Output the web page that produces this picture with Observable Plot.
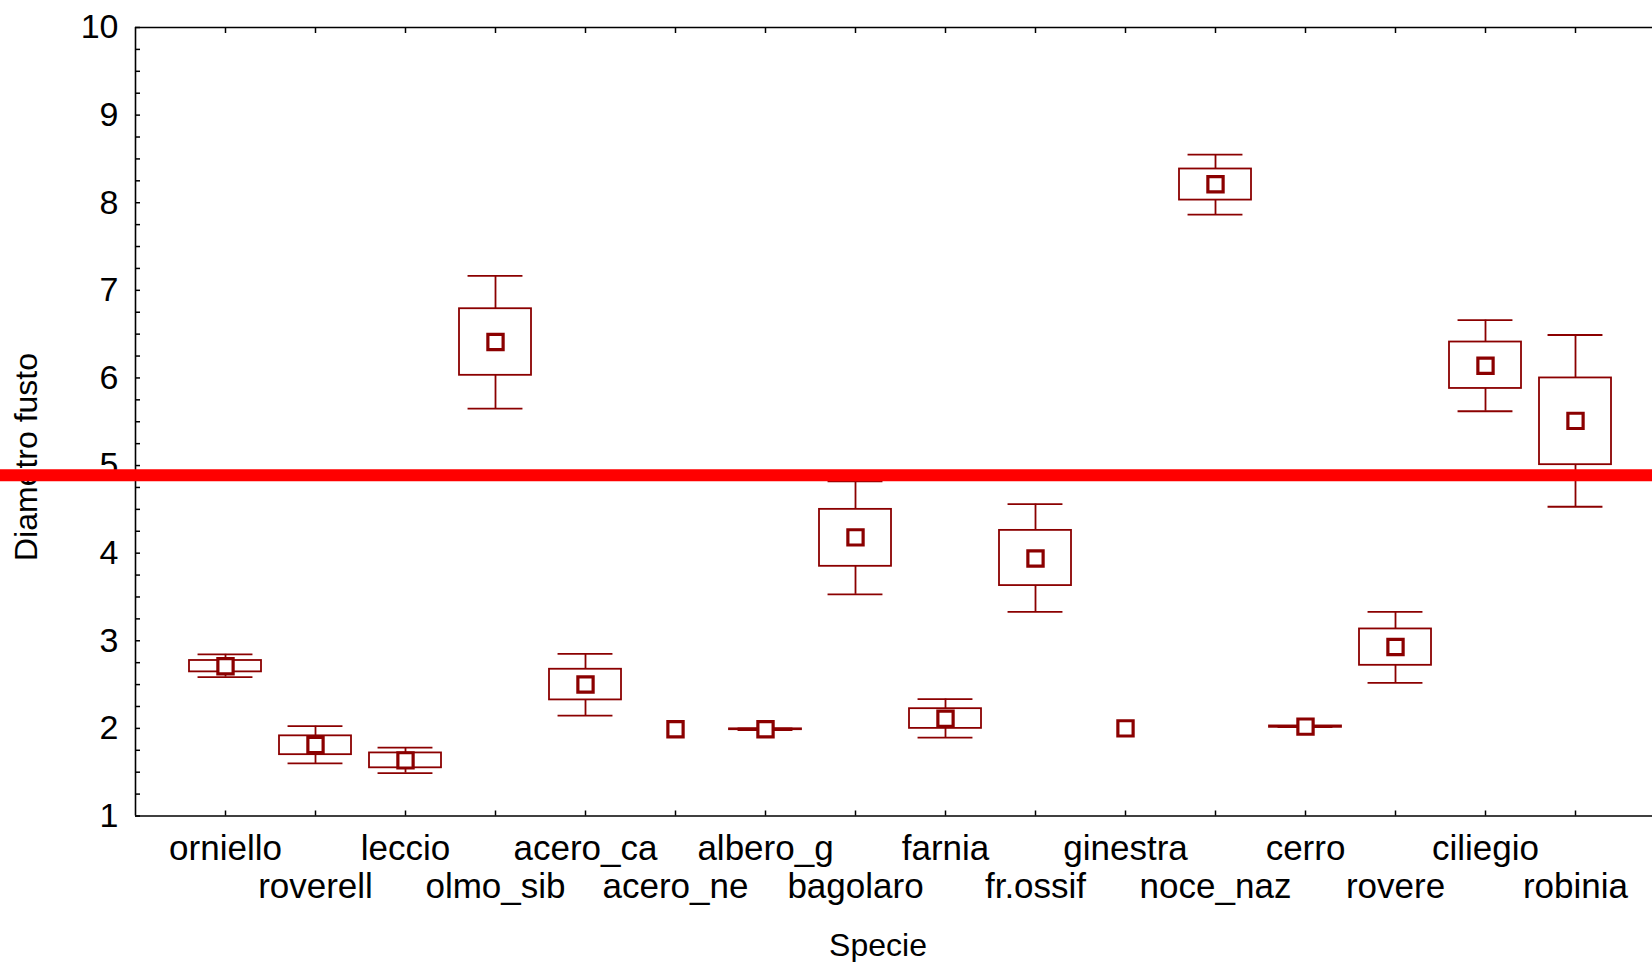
<!DOCTYPE html>
<html>
<head>
<meta charset="utf-8">
<script src="https://cdn.jsdelivr.net/npm/d3@7"></script>
<script src="https://cdn.jsdelivr.net/npm/@observablehq/plot@0.6"></script>
<style>
  html, body { margin: 0; padding: 0; background: #fff; overflow: hidden; }
  #chart { width: 1652px; height: 962px; }
</style>
</head>
<body>
<div id="chart"></div>
<script>
// ---- data ----
const species   = ["orniello","roverell","leccio","olmo_sib","acero_ca","acero_ne","albero_g","bagolaro","farnia","fr.ossif","ginestra","noce_naz","cerro","rovere","ciliegio","robinia"];
const means     = [2.71, 1.81, 1.635, 6.41, 2.50, 1.99, 1.99, 4.18, 2.11, 3.94, 2.00, 8.21, 2.02, 2.93, 6.14, 5.51];
const boxLow    = [2.645, 1.70, 1.55, 6.03, 2.325, null, 1.985, 3.85, 2.00, 3.63, null, 8.03, 2.012, 2.72, 5.88, 5.01];
const boxHigh   = [2.775, 1.915, 1.72, 6.79, 2.675, null, 1.995, 4.50, 2.225, 4.26, null, 8.385, 2.028, 3.135, 6.41, 6.00];
const whiskLow  = [2.585, 1.60, 1.49, 5.65, 2.145, null, 1.98, 3.53, 1.895, 3.33, null, 7.865, 2.015, 2.52, 5.62, 4.53];
const whiskHigh = [2.845, 2.025, 1.78, 7.165, 2.85, null, 2.00, 4.82, 2.335, 4.56, null, 8.55, 2.025, 3.33, 6.66, 6.49];
const refLine   = 4.89;
const yTicks    = [1, 2, 3, 4, 5, 6, 7, 8, 9, 10];
const xTitle    = "Specie";
const yTitle    = "Diametro fusto";

(function () {
const rows = species.map((s, i) => ({
  i, s, mean: means[i], lo: boxLow[i], hi: boxHigh[i], wlo: whiskLow[i], whi: whiskHigh[i]
}));
const withBox = rows.filter(d => d.lo != null);
const even = rows.filter(d => d.i % 2 === 0);
const odd = rows.filter(d => d.i % 2 === 1);
const minorTicks = d3.range(1, 10.001, 0.25);

const col = "#8b0000";
const font = "'Liberation Sans', Arial, sans-serif";

const W = 1652, H = 962;
const mLeft = 135, mTop = 27, yBottom = 815.5;

const plot = Plot.plot({
  width: W,
  height: H,
  marginLeft: mLeft,
  marginRight: 0,
  marginTop: mTop,
  marginBottom: H - yBottom,
  style: { fontFamily: font, background: "white", overflow: "hidden", color: "black" },
  x: { type: "linear", domain: [-1, 16], range: [mLeft, mLeft + 17 * 90], axis: null },
  y: { domain: [1, 10], range: [yBottom, mTop], axis: null },
  marks: [
    Plot.axisY(yTicks, { tickSize: 0, tickPadding: 17, fontSize: 34, anchor: "left", label: null, tickFormat: d => String(d) }),
    Plot.axisY(minorTicks, { tickSize: -5, tickFormat: () => "", anchor: "left", strokeWidth: 1.5, label: null }),
    Plot.axisX(d3.range(species.length), { anchor: "top", tickSize: -5, tickFormat: () => "", strokeWidth: 1.5, label: null }),
    Plot.axisX(d3.range(species.length), { anchor: "bottom", tickSize: -5, tickFormat: () => "", strokeWidth: 1.5, label: null }),
    Plot.ruleX([-1], { y1: 1, y2: 10, stroke: "black", strokeWidth: 1.6 }),
    Plot.ruleY([1, 10], { x1: () => -1, x2: () => 17, stroke: "black", strokeWidth: 1.6 }),
    Plot.text(even, { x: "i", text: "s", frameAnchor: "bottom", dy: 33, fontSize: 35, lineAnchor: "middle" }),
    Plot.text(odd, { x: "i", text: "s", frameAnchor: "bottom", dy: 71, fontSize: 35, lineAnchor: "middle" }),
    Plot.ruleX(withBox, { x: "i", y1: "hi", y2: "whi", stroke: col, strokeWidth: 1.8 }),
    Plot.ruleX(withBox, { x: "i", y1: "lo", y2: "wlo", stroke: col, strokeWidth: 1.8 }),
    Plot.ruleY(withBox, { y: "whi", x1: d => d.i - 0.305, x2: d => d.i + 0.305, stroke: col, strokeWidth: 1.8 }),
    Plot.ruleY(withBox, { y: "wlo", x1: d => d.i - 0.305, x2: d => d.i + 0.305, stroke: col, strokeWidth: 1.8 }),
    Plot.rect(withBox, { x1: d => d.i - 0.4, x2: d => d.i + 0.4, y1: "lo", y2: "hi", fill: "none", stroke: col, strokeWidth: 1.8 }),
    Plot.dot(rows, { x: "i", y: "mean", symbol: "square", r: 8.6, fill: "white", stroke: col, strokeWidth: 3.2 }),
    Plot.ruleY([refLine], { x1: () => -2.6, x2: () => 17.5, stroke: "#ff0000", strokeWidth: 12 })
  ]
});

const svg = d3.select(plot);
svg.insert("text", ":first-child")
  .attr("transform", "translate(26,457) rotate(-90)")
  .attr("text-anchor", "middle")
  .attr("dy", "0.35em")
  .attr("font-size", 32)
  .attr("font-family", font)
  .attr("fill", "black")
  .text(yTitle);
svg.insert("text", ":first-child")
  .attr("x", 878)
  .attr("y", 956)
  .attr("text-anchor", "middle")
  .attr("font-size", 32)
  .attr("font-family", font)
  .attr("fill", "black")
  .text(xTitle);

document.getElementById("chart").appendChild(plot);
})();
</script>
</body>
</html>
